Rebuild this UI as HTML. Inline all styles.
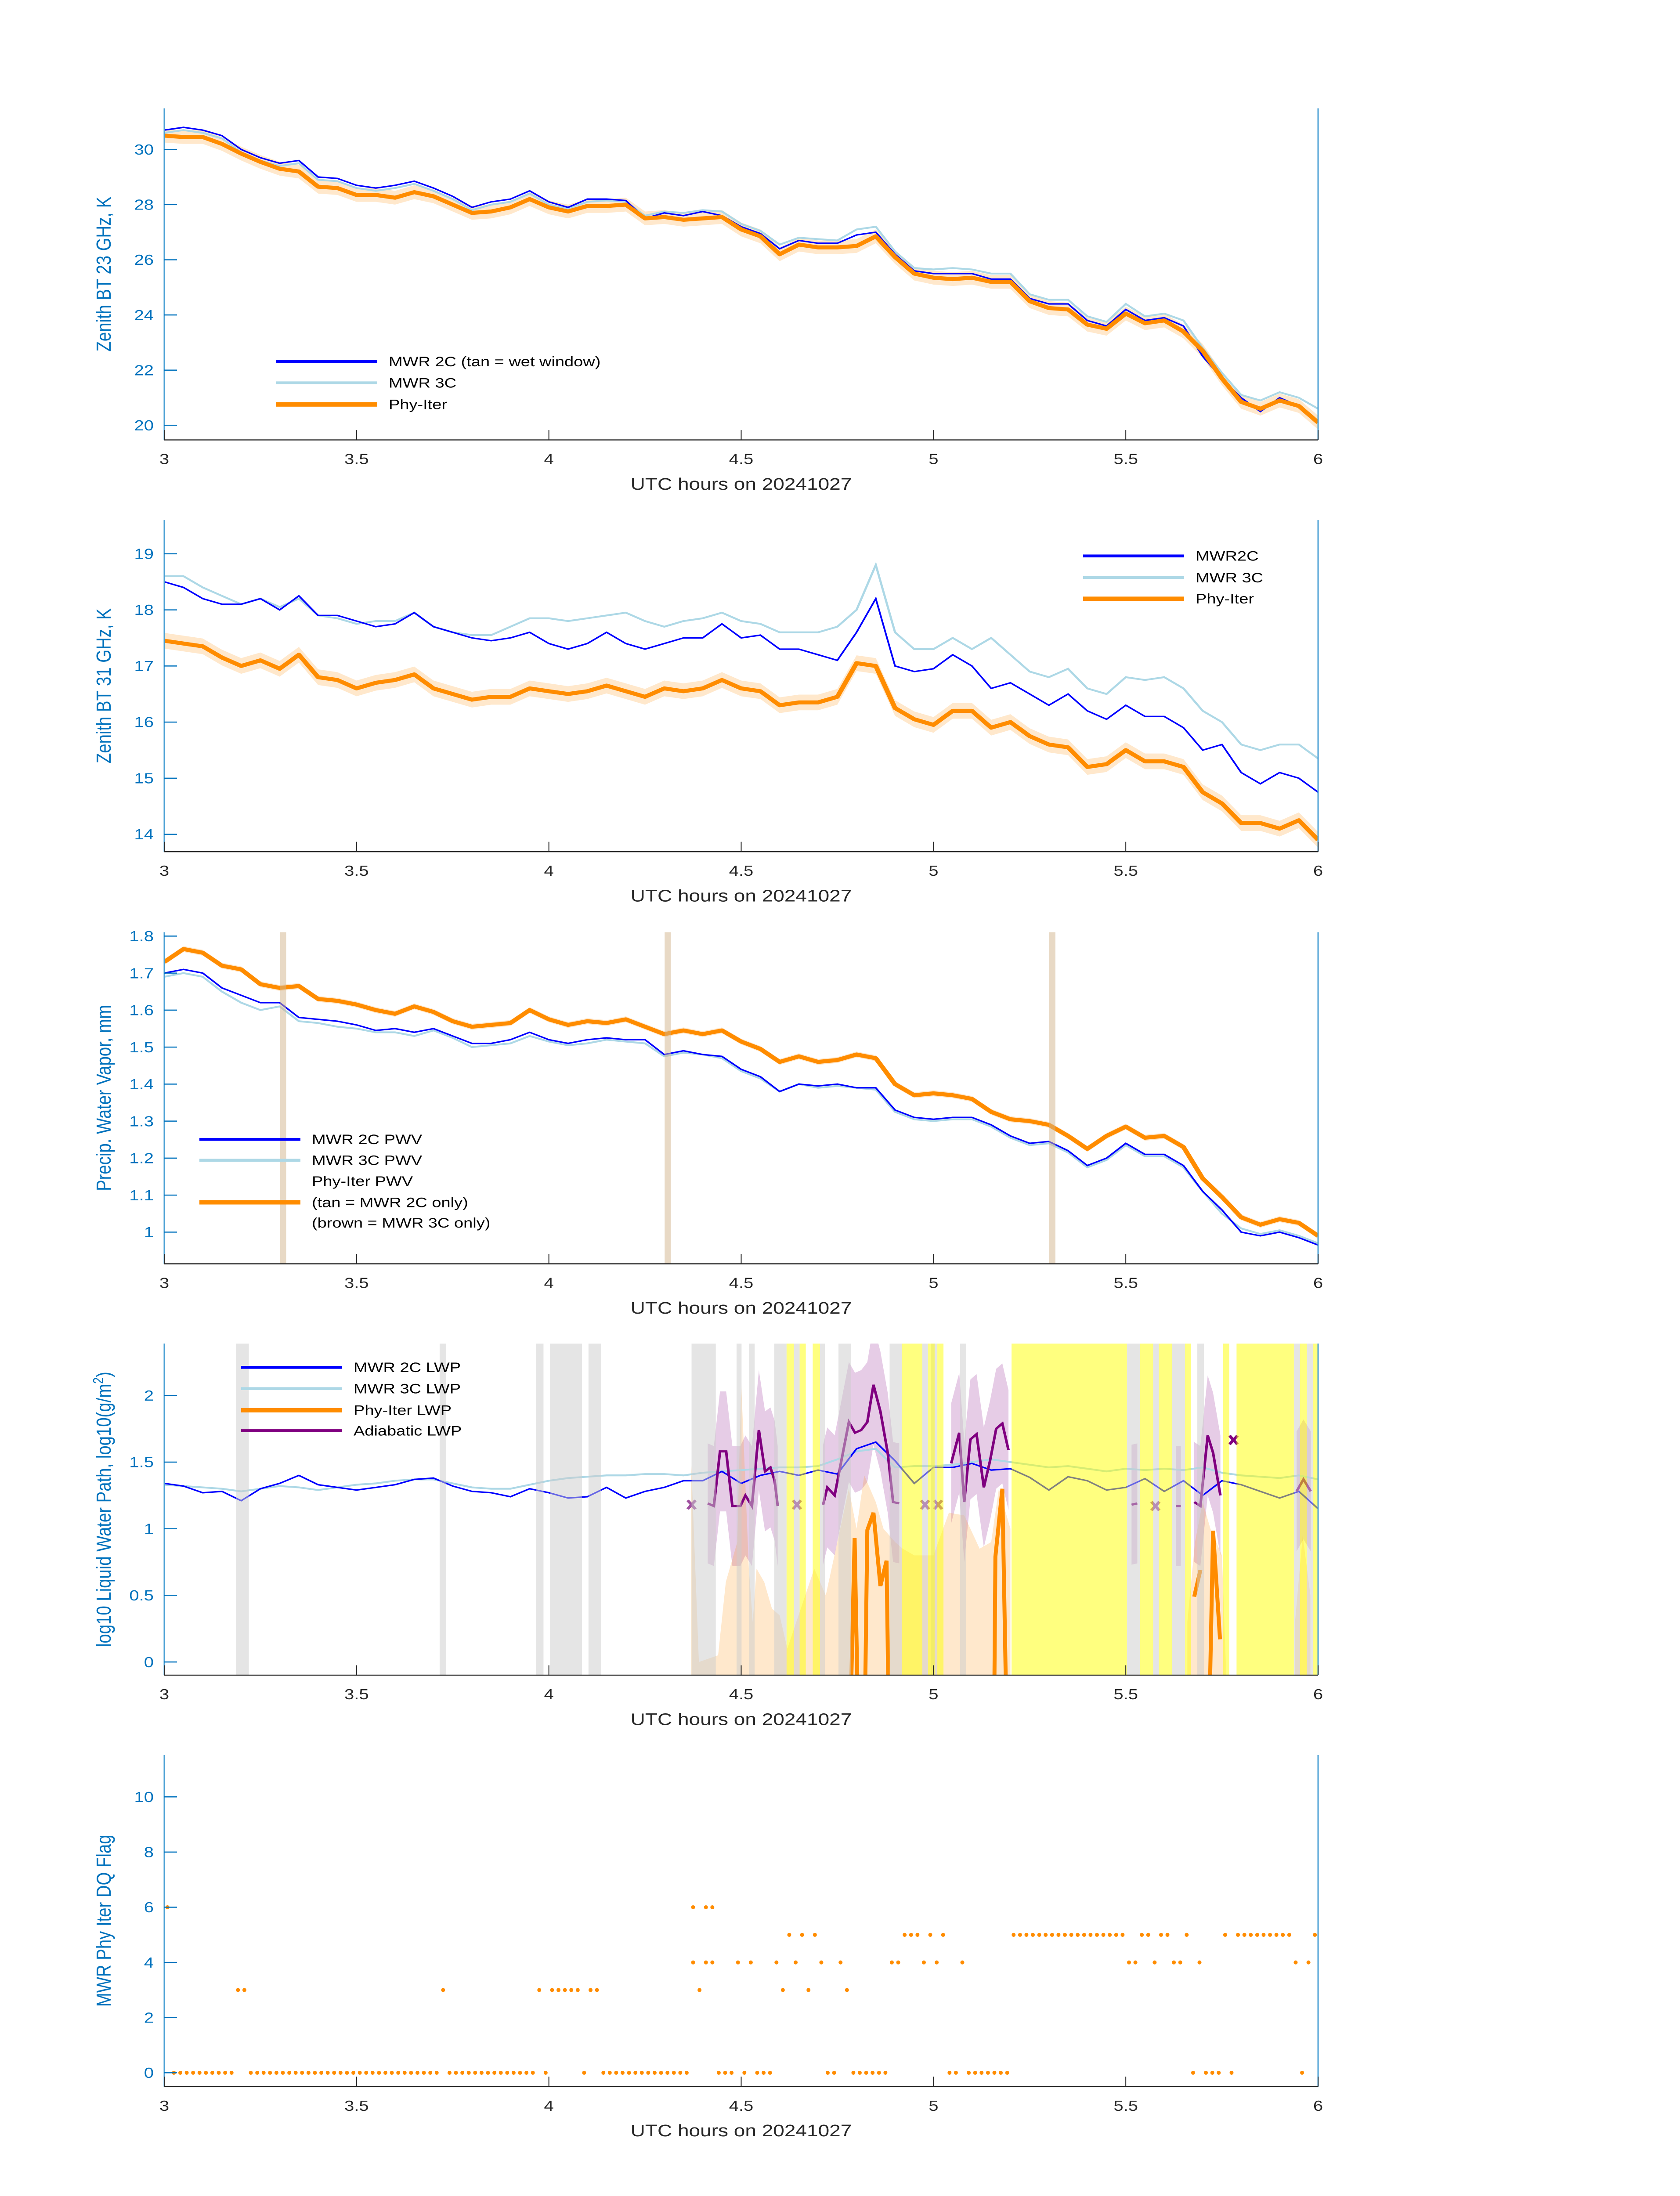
<!DOCTYPE html>
<html><head><meta charset="utf-8"><title>MWR Phy-Iter diagnostics 20241027</title>
<style>
html,body{margin:0;padding:0;background:#fff;width:100vw;height:100vh;overflow:hidden;}
svg{position:absolute;left:0;top:0;width:100vw;height:100vh;font-family:"Liberation Sans",Arial,sans-serif;}
</style></head>
<body>
<svg id="fig" xmlns="http://www.w3.org/2000/svg" viewBox="0 0 3825 6000" preserveAspectRatio="none">
<rect x="0" y="0" width="3825" height="6000" fill="#ffffff"/>
</svg>
<script>
// ---------- shared time grid (UTC hours) ----------
const hours = [3.00,3.05,3.10,3.15,3.20,3.25,3.30,3.35,3.40,3.45,3.50,3.55,3.60,3.65,3.70,3.75,3.80,3.85,3.90,3.95,4.00,4.05,4.10,4.15,4.20,4.25,4.30,4.35,4.40,4.45,4.50,4.55,4.60,4.65,4.70,4.75,4.80,4.85,4.90,4.95,5.00,5.05,5.10,5.15,5.20,5.25,5.30,5.35,5.40,5.45,5.50,5.55,5.60,5.65,5.70,5.75,5.80,5.85,5.90,5.95,6.00];
const xTicks = [3,3.5,4,4.5,5,5.5,6];
const xTickLabels = ["3","3.5","4","4.5","5","5.5","6"];

// ---------- panel 1: BT 23 GHz ----------
const bt23_2C = [30.7,30.8,30.7,30.5,30.0,29.7,29.5,29.6,29.0,28.95,28.7,28.6,28.7,28.85,28.6,28.3,27.9,28.1,28.2,28.5,28.1,27.9,28.2,28.2,28.15,27.5,27.7,27.6,27.75,27.6,27.2,26.95,26.4,26.7,26.6,26.6,26.9,27.0,26.2,25.6,25.5,25.5,25.5,25.3,25.3,24.6,24.4,24.4,23.8,23.6,24.2,23.8,23.9,23.6,22.5,21.7,21.0,20.5,21.0,20.7,20.15];
const bt23_3C = [30.6,30.7,30.6,30.4,29.9,29.6,29.4,29.5,28.9,28.85,28.6,28.5,28.6,28.75,28.5,28.2,27.8,28.0,28.1,28.4,28.0,27.85,28.1,28.15,28.1,27.6,27.75,27.7,27.8,27.75,27.3,27.05,26.55,26.8,26.75,26.7,27.1,27.2,26.3,25.7,25.65,25.7,25.65,25.5,25.5,24.75,24.55,24.55,23.95,23.75,24.4,23.95,24.05,23.8,22.8,21.9,21.1,20.9,21.2,21.0,20.6];
const bt23_phy = [30.5,30.45,30.45,30.2,29.85,29.55,29.3,29.2,28.65,28.6,28.35,28.35,28.25,28.45,28.3,28.0,27.7,27.75,27.9,28.2,27.9,27.75,27.95,27.95,28.0,27.5,27.55,27.45,27.5,27.55,27.1,26.85,26.2,26.55,26.45,26.45,26.5,26.85,26.1,25.5,25.35,25.3,25.35,25.2,25.2,24.5,24.25,24.2,23.65,23.5,24.05,23.7,23.8,23.4,22.7,21.7,20.85,20.6,20.9,20.7,20.1];
const bt23_ci = 0.25;
const bt23_ticks = [20,22,24,26,28,30];

// ---------- panel 2: BT 31 GHz ----------
const bt31_2C = [18.5,18.4,18.2,18.1,18.1,18.2,18.0,18.25,17.9,17.9,17.8,17.7,17.75,17.95,17.7,17.6,17.5,17.45,17.5,17.6,17.4,17.3,17.4,17.6,17.4,17.3,17.4,17.5,17.5,17.75,17.5,17.55,17.3,17.3,17.2,17.1,17.6,18.2,17.0,16.9,16.95,17.2,17.0,16.6,16.7,16.5,16.3,16.5,16.2,16.05,16.3,16.1,16.1,15.9,15.5,15.6,15.1,14.9,15.1,15.0,14.75];
const bt31_3C = [18.6,18.6,18.4,18.25,18.1,18.2,18.05,18.2,17.9,17.85,17.75,17.8,17.8,17.95,17.7,17.6,17.55,17.55,17.7,17.85,17.85,17.8,17.85,17.9,17.95,17.8,17.7,17.8,17.85,17.95,17.8,17.75,17.6,17.6,17.6,17.7,18.0,18.8,17.6,17.3,17.3,17.5,17.3,17.5,17.2,16.9,16.8,16.95,16.6,16.5,16.8,16.75,16.8,16.6,16.2,16.0,15.6,15.5,15.6,15.6,15.35];
const bt31_phy = [17.45,17.4,17.35,17.15,17.0,17.1,16.95,17.2,16.8,16.75,16.6,16.7,16.75,16.85,16.6,16.5,16.4,16.45,16.45,16.6,16.55,16.5,16.55,16.65,16.55,16.45,16.6,16.55,16.6,16.75,16.6,16.55,16.3,16.35,16.35,16.45,17.05,17.0,16.25,16.05,15.95,16.2,16.2,15.9,16.0,15.75,15.6,15.55,15.2,15.25,15.5,15.3,15.3,15.2,14.75,14.55,14.2,14.2,14.1,14.25,13.9];
const bt31_ci = 0.14;
const bt31_ticks = [14,15,16,17,18,19];

// ---------- panel 3: PWV ----------
const pwv_2C = [1.70,1.71,1.70,1.66,1.64,1.62,1.62,1.58,1.575,1.57,1.56,1.545,1.55,1.54,1.55,1.53,1.51,1.51,1.52,1.54,1.52,1.51,1.52,1.525,1.52,1.52,1.48,1.49,1.48,1.475,1.44,1.42,1.38,1.40,1.395,1.40,1.39,1.39,1.33,1.31,1.305,1.31,1.31,1.29,1.26,1.24,1.245,1.22,1.18,1.20,1.24,1.21,1.21,1.18,1.11,1.06,1.00,0.99,1.00,0.985,0.965];
const pwv_3C = [1.69,1.70,1.69,1.65,1.62,1.60,1.61,1.57,1.565,1.555,1.55,1.54,1.54,1.53,1.545,1.525,1.50,1.505,1.51,1.53,1.515,1.505,1.51,1.52,1.515,1.51,1.475,1.485,1.48,1.47,1.435,1.415,1.38,1.40,1.39,1.395,1.39,1.385,1.325,1.305,1.30,1.305,1.305,1.285,1.255,1.235,1.24,1.215,1.175,1.195,1.235,1.205,1.205,1.175,1.11,1.05,1.01,0.995,1.005,0.99,0.97];
const pwv_phy = [1.73,1.765,1.755,1.72,1.71,1.67,1.66,1.665,1.63,1.625,1.615,1.60,1.59,1.61,1.595,1.57,1.555,1.56,1.565,1.60,1.575,1.56,1.57,1.565,1.575,1.555,1.535,1.545,1.535,1.545,1.515,1.495,1.46,1.475,1.46,1.465,1.48,1.47,1.40,1.37,1.375,1.37,1.36,1.325,1.305,1.30,1.29,1.26,1.225,1.26,1.285,1.255,1.26,1.23,1.145,1.095,1.04,1.02,1.035,1.025,0.99];
const pwv_ci = 0.008;
const pwv_tanTimes = [3.309,4.309,5.309];
const pwv_ticks = [1,1.1,1.2,1.3,1.4,1.5,1.6,1.7,1.8];
const pwv_tickLabels = ["1","1.1","1.2","1.3","1.4","1.5","1.6","1.7","1.8"];

// ---------- panel 4: LWP ----------
const lwp_2C = [1.34,1.32,1.27,1.28,1.21,1.30,1.34,1.40,1.33,1.31,1.29,1.31,1.33,1.37,1.38,1.32,1.28,1.27,1.24,1.30,1.27,1.23,1.24,1.31,1.23,1.28,1.31,1.36,1.36,1.43,1.34,1.40,1.43,1.40,1.44,1.41,1.60,1.65,1.51,1.34,1.46,1.46,1.49,1.44,1.45,1.385,1.29,1.39,1.36,1.29,1.31,1.376,1.28,1.36,1.25,1.36,1.33,1.28,1.23,1.28,1.15];
const lwp_3C = [1.33,1.32,1.31,1.30,1.28,1.30,1.32,1.31,1.29,1.31,1.33,1.34,1.36,1.37,1.37,1.34,1.31,1.30,1.30,1.33,1.36,1.38,1.39,1.40,1.40,1.41,1.41,1.40,1.42,1.43,1.44,1.45,1.46,1.46,1.47,1.52,1.58,1.60,1.46,1.47,1.47,1.48,1.50,1.52,1.50,1.48,1.46,1.47,1.45,1.43,1.45,1.44,1.45,1.44,1.46,1.42,1.40,1.39,1.38,1.40,1.37];
const adiTimes = [4.413,4.429,4.445,4.461,4.477,4.498,4.511,4.528,4.546,4.562,4.576,4.587,4.595,null,4.713,4.724,4.743,4.78,4.796,4.812,4.828,4.844,4.862,4.881,4.895,4.911,null,5.046,5.067,5.08,5.096,5.112,5.131,5.147,5.163,5.179,5.195,null,5.515,5.53,null,5.63,5.643,null,5.678,5.694,5.713,5.727,5.746,null,5.944,5.962,5.981];
const adiValues = [1.19,1.17,1.58,1.58,1.17,1.17,1.25,1.17,1.74,1.43,1.46,1.36,1.17,null,1.18,1.31,1.25,1.80,1.72,1.74,1.80,2.08,1.88,1.57,1.20,1.19,null,1.49,1.72,1.20,1.67,1.71,1.31,1.51,1.75,1.79,1.59,null,1.18,1.19,null,1.17,1.17,null,1.20,1.17,1.70,1.57,1.25,null,1.28,1.37,1.28];
const adiCI = 0.45;
const phyLwpTimes = [4.785,4.795,4.803,null,4.822,4.828,4.844,4.862,4.878,4.883,null,5.158,5.161,5.179,5.189,null,5.678,5.694,null,5.718,5.727,5.745];
const phyLwpValues = [-0.3,0.93,-0.3,null,-0.3,0.99,1.12,0.57,0.76,-0.3,null,-0.3,0.79,1.30,-0.3,null,0.49,0.69,null,-0.3,0.985,0.17];
const phyCiTimes = [4.37,4.39,4.44,4.46,4.49,4.50,4.52,4.53,4.54,4.56,4.58,4.60,4.62,4.69,4.72,4.75,4.78,4.80,4.82,4.85,4.87,4.90,4.92,4.95,5.00,5.04,5.08,5.12,5.15,5.17,5.20,null,5.66,5.68,5.70,5.72,5.75,5.76,null,5.94,5.96,5.98];
const phyCiUpper = [1.5,0.0,0.05,0.6,0.9,2.1,0.7,0.3,0.7,0.6,0.4,0.35,0.1,0.7,0.5,0.9,1.3,1.0,1.4,1.2,1.0,0.9,0.85,0.8,0.8,1.12,1.1,0.85,0.9,1.3,1.0,null,0.3,0.9,1.2,1.0,0.8,0.0,null,0.3,0.95,0.5];
const xMarkTimes = [4.371,4.645,4.978,5.012,5.577];
const xMarkValues = [1.18,1.18,1.18,1.18,1.17];
const xMarkDarkTimes = [5.78];
const xMarkDarkValues = [1.666];
const grayBandStart = [3.187,3.716,3.967,4.003,4.103,4.371,4.488,4.52,4.586,4.637,4.705,4.753,4.886,4.971,4.993,5.069,5.503,5.571,5.62,5.686,5.937,5.971];
const grayBandEnd   = [3.220,3.733,3.986,4.086,4.136,4.434,4.501,4.535,4.618,4.652,4.718,4.786,4.918,4.986,5.01,5.085,5.537,5.586,5.654,5.703,5.953,5.987];
const yellowBandStart = [4.618,4.652,4.686,4.918,4.986,5.01,5.203,5.537,5.586,5.654,5.753,5.788,5.953,5.987];
const yellowBandEnd   = [4.637,4.668,4.705,4.971,5.003,5.026,5.503,5.571,5.62,5.67,5.769,5.937,5.971,6.0];
const lwp_ticks = [0,0.5,1,1.5,2];
const lwp_tickLabels = ["0","0.5","1","1.5","2"];

// ---------- panel 5: DQ flag (minute index after 03 UTC) ----------
const flag0Minutes = [1,2,3,4,5,6,7,8,9,10,13,14,15,16,17,18,19,20,21,22,23,24,25,26,27,28,29,30,31,32,33,34,35,36,37,38,39,40,41,42,44,45,46,47,48,49,50,51,52,53,54,55,56,57,59,65,68,69,70,71,72,73,74,75,76,77,78,79,80,81,86,87,88,90,92,93,94,103,104,107,108,109,110,111,112,122,123,125,126,127,128,129,130,131,160,162,163,164,166,177];
const flag3Minutes = [11,12,43,58,60,61,62,63,64,66,67,83,96,100,106];
const flag4Minutes = [82,84,85,89,91,95,98,102,105,113,114,118,120,124,150,151,154,157,158,161,176,178];
const flag5Minutes = [97,99,101,115,116,117,119,121,132,133,134,135,136,137,138,139,140,141,142,143,144,145,146,147,148,149,152,153,155,156,159,165,167,168,169,170,171,172,173,174,175,179,180];
const flag6Minutes = [0,82,84,85];
const flag_ticks = [0,2,4,6,8,10];

// ---------- layout ----------
const SVGNS = "http://www.w3.org/2000/svg";
const fig = document.getElementById("fig");
const X0 = 374, X1 = 3001, PH = 906;
function sx(t){ return X0 + (t-3)/3*(X1-X0); }

function mk(parent, tag, attrs, name, inter){
  const e = document.createElementNS(SVGNS, tag);
  for (const k in attrs) e.setAttribute(k, attrs[k]);
  
  
  parent.appendChild(e);
  return e;
}
function pathFrom(ts, vs, sy){
  let d = "", pen = false;
  for (let i=0;i<ts.length;i++){
    if (ts[i]===null || vs[i]===null){ pen=false; continue; }
    d += (pen ? "L" : "M") + sx(ts[i]).toFixed(1) + "," + sy(vs[i]).toFixed(1);
    pen = true;
  }
  return d;
}
function bandFrom(ts, lo, hi, sy){
  const segs = []; let cur = [];
  for (let i=0;i<=ts.length;i++){
    if (i===ts.length || ts[i]===null){ if (cur.length) segs.push(cur); cur=[]; continue; }
    cur.push(i);
  }
  return segs.map(seg=>{
    let d = "";
    seg.forEach((i,k)=>{ d += (k?"L":"M") + sx(ts[i]).toFixed(1)+","+sy(hi(i)).toFixed(1); });
    for (let k=seg.length-1;k>=0;k--){ const i=seg[k]; d += "L"+sx(ts[i]).toFixed(1)+","+sy(lo(i)).toFixed(1); }
    return d+"Z";
  });
}

function makePanel(id, top, ymin, ymax, yTicks, yTickLabels, ylabel){
  const g = mk(fig, "g", {id:id}, id, false);
  const sy = v => top + (ymax - v)/(ymax - ymin)*PH;
  const clip = mk(g, "clipPath", {id:id+"-clip"}, id+"-clip-region", false);
  mk(clip, "rect", {x:X0, y:top, width:X1-X0, height:PH}, id+"-clip-rect", false);
  const plot = mk(g, "g", {"clip-path":"url(#"+id+"-clip)"}, id+"-plot-area", false);
  return {g, plot, sy, top, yTicks, yTickLabels, ylabel};
}
function finishAxes(p, hasYLabelTspan){
  const {g, sy, top} = p;
  const bottom = top + PH;
  mk(g, "line", {x1:X0, y1:top, x2:X0, y2:bottom, stroke:"#4a9fd4", "stroke-width":3}, "y-axis-line", false);
  mk(g, "line", {x1:X1, y1:top, x2:X1, y2:bottom, stroke:"#4a9fd4", "stroke-width":3}, "right-axis-line", false);
  mk(g, "line", {x1:X0, y1:bottom, x2:X1, y2:bottom, stroke:"#262626", "stroke-width":3}, "x-axis-line", false);
  xTicks.forEach((t,i)=>{
    mk(g, "line", {x1:sx(t), y1:bottom, x2:sx(t), y2:bottom-27, stroke:"#262626", "stroke-width":2}, "x-tick", false);
    const tx = mk(g, "text", {x:sx(t), y:bottom+66, "font-size":40, fill:"#262626", "text-anchor":"middle"}, "x-tick-label", false);
    tx.textContent = xTickLabels[i];
  });
  p.yTicks.forEach((v,i)=>{
    mk(g, "line", {x1:X0, y1:sy(v), x2:X0+29, y2:sy(v), stroke:"#0072bd", "stroke-width":3}, "y-tick", false);
    const ty = mk(g, "text", {x:350, y:sy(v)+14, "font-size":40, fill:"#0072bd", "text-anchor":"end"}, "y-tick-label", false);
    ty.textContent = p.yTickLabels[i];
  });
  const xl = mk(g, "text", {x:(X0+X1)/2, y:bottom+136, "font-size":46, fill:"#262626", "text-anchor":"middle"}, "x-axis-title", false);
  xl.textContent = "UTC hours on 20241027";
  const cy = top + PH/2;
  const yl = mk(g, "text", {x:0, y:0, "font-size":46, fill:"#0072bd", "text-anchor":"middle", transform:"translate(252,"+cy+") rotate(-90)"}, "y-axis-title", false);
  if (hasYLabelTspan){
    yl.appendChild(document.createTextNode("log10 Liquid Water Path, log10(g/m"));
    const sup = mk(yl, "tspan", {"baseline-shift":"super", "font-size":32}, "superscript-two", false);
    sup.textContent = "2";
    yl.appendChild(document.createTextNode(")"));
  } else {
    yl.textContent = p.ylabel;
  }
}
function legend(g, x0, rows){
  const lg = mk(g, "g", {}, "legend", false);
  rows.forEach(r=>{
    if (r.color){
      mk(lg, "line", {x1:x0, y1:r.y, x2:x0+230, y2:r.y, stroke:r.color, "stroke-width":r.w}, "legend-swatch", false);
    }
    const t = mk(lg, "text", {x:x0+256, y:r.y+13, "font-size":38, fill:"#000"}, "legend-entry", false);
    t.textContent = r.label;
  });
}

const BLUE="#0000ff", LBLUE="#add8e6", ORANGE="#ff8c00", PURPLE="#800080";

// ===== Panel 1 =====
{
  const p = makePanel("panel-bt23", 296, 19.47, 31.49, bt23_ticks, bt23_ticks.map(String), "Zenith BT 23 GHz, K");
  bandFrom(hours, i=>bt23_phy[i]-bt23_ci, i=>bt23_phy[i]+bt23_ci, p.sy).forEach(d=>{
    mk(p.plot, "path", {d:d, fill:"rgba(255,140,0,0.2)", stroke:"none"}, "phy-iter-uncertainty", false);
  });
  mk(p.plot, "path", {d:pathFrom(hours, bt23_3C, p.sy), fill:"none", stroke:LBLUE, "stroke-width":5}, "mwr-3c-line", false);
  mk(p.plot, "path", {d:pathFrom(hours, bt23_2C, p.sy), fill:"none", stroke:BLUE, "stroke-width":4}, "mwr-2c-line", false);
  mk(p.plot, "path", {d:pathFrom(hours, bt23_phy, p.sy), fill:"none", stroke:ORANGE, "stroke-width":11, "stroke-linejoin":"round"}, "phy-iter-line", false);
  finishAxes(p, false);
  legend(p.g, 629, [{y:988,color:BLUE,w:8,label:"MWR 2C (tan = wet window)"},{y:1046,color:LBLUE,w:8,label:"MWR 3C"},{y:1105,color:ORANGE,w:12,label:"Phy-Iter"}]);
}
// ===== Panel 2 =====
{
  const p = makePanel("panel-bt31", 1421, 13.69, 19.6, bt31_ticks, bt31_ticks.map(String), "Zenith BT 31 GHz, K");
  bandFrom(hours, i=>bt31_phy[i]-bt31_ci, i=>bt31_phy[i]+bt31_ci, p.sy).forEach(d=>{
    mk(p.plot, "path", {d:d, fill:"rgba(255,140,0,0.2)", stroke:"none"}, "phy-iter-uncertainty", false);
  });
  mk(p.plot, "path", {d:pathFrom(hours, bt31_3C, p.sy), fill:"none", stroke:LBLUE, "stroke-width":5}, "mwr-3c-line", false);
  mk(p.plot, "path", {d:pathFrom(hours, bt31_2C, p.sy), fill:"none", stroke:BLUE, "stroke-width":4}, "mwr-2c-line", false);
  mk(p.plot, "path", {d:pathFrom(hours, bt31_phy, p.sy), fill:"none", stroke:ORANGE, "stroke-width":11, "stroke-linejoin":"round"}, "phy-iter-line", false);
  finishAxes(p, false);
  legend(p.g, 2466, [{y:1519,color:BLUE,w:8,label:"MWR2C"},{y:1578,color:LBLUE,w:8,label:"MWR 3C"},{y:1636,color:ORANGE,w:12,label:"Phy-Iter"}]);
}
// ===== Panel 3 =====
{
  const p = makePanel("panel-pwv", 2547, 0.9144, 1.8105, pwv_ticks, pwv_tickLabels, "Precip. Water Vapor, mm");
  bandFrom(hours, i=>pwv_phy[i]-pwv_ci, i=>pwv_phy[i]+pwv_ci, p.sy).forEach(d=>{
    mk(p.plot, "path", {d:d, fill:"rgba(255,140,0,0.2)", stroke:"none"}, "phy-iter-uncertainty", false);
  });
  mk(p.plot, "path", {d:pathFrom(hours, pwv_3C, p.sy), fill:"none", stroke:LBLUE, "stroke-width":5}, "mwr-3c-pwv-line", false);
  mk(p.plot, "path", {d:pathFrom(hours, pwv_2C, p.sy), fill:"none", stroke:BLUE, "stroke-width":4}, "mwr-2c-pwv-line", false);
  mk(p.plot, "path", {d:pathFrom(hours, pwv_phy, p.sy), fill:"none", stroke:ORANGE, "stroke-width":11, "stroke-linejoin":"round"}, "phy-iter-pwv-line", false);
  pwv_tanTimes.forEach(t=>{
    mk(p.plot, "rect", {x:sx(t)-7, y:p.top, width:14, height:PH, fill:"rgba(210,180,140,0.5)"}, "tan-mwr-2c-only-marker", false);
  });
  finishAxes(p, false);
  legend(p.g, 454, [{y:3113,color:BLUE,w:8,label:"MWR 2C PWV"},{y:3170,color:LBLUE,w:8,label:"MWR 3C PWV"},{y:3227,label:"Phy-Iter PWV"},{y:3285,color:ORANGE,w:12,label:"(tan = MWR 2C only)"},{y:3341,label:"(brown = MWR 3C only)"}]);
}
// ===== Panel 4 =====
{
  const p = makePanel("panel-lwp", 3671, -0.099, 2.389, lwp_ticks, lwp_tickLabels, "");
  bandFrom(adiTimes, i=>adiValues[i]-adiCI, i=>adiValues[i]+adiCI, p.sy).forEach(d=>{
    mk(p.plot, "path", {d:d, fill:"rgba(128,0,128,0.2)", stroke:"none"}, "adiabatic-uncertainty", false);
  });
  bandFrom(phyCiTimes, i=>-0.2, i=>phyCiUpper[i], p.sy).forEach(d=>{
    mk(p.plot, "path", {d:d, fill:"rgba(255,140,0,0.2)", stroke:"none"}, "phy-iter-lwp-uncertainty", false);
  });
  mk(p.plot, "path", {d:pathFrom(hours, lwp_3C, p.sy), fill:"none", stroke:LBLUE, "stroke-width":5}, "mwr-3c-lwp-line", false);
  mk(p.plot, "path", {d:pathFrom(hours, lwp_2C, p.sy), fill:"none", stroke:BLUE, "stroke-width":4}, "mwr-2c-lwp-line", false);
  mk(p.plot, "path", {d:pathFrom(adiTimes, adiValues, p.sy), fill:"none", stroke:PURPLE, "stroke-width":6}, "adiabatic-lwp-line", false);
  mk(p.plot, "path", {d:pathFrom(phyLwpTimes, phyLwpValues, p.sy), fill:"none", stroke:ORANGE, "stroke-width":9}, "phy-iter-lwp-line", false);
  xMarkTimes.forEach((t,i)=>{
    const cx=sx(t), cy=p.sy(xMarkValues[i]);
    mk(p.plot, "path", {d:`M${cx-9},${cy-12}L${cx+9},${cy+12}M${cx+9},${cy-12}L${cx-9},${cy+12}`, stroke:"#a050a0", "stroke-width":7}, "adiabatic-x-marker", false);
  });
  xMarkDarkTimes.forEach((t,i)=>{
    const cx=sx(t), cy=p.sy(xMarkDarkValues[i]);
    mk(p.plot, "path", {d:`M${cx-9},${cy-12}L${cx+9},${cy+12}M${cx+9},${cy-12}L${cx-9},${cy+12}`, stroke:PURPLE, "stroke-width":7}, "adiabatic-x-marker-dark", false);
  });
  grayBandStart.forEach((t,i)=>{
    mk(p.plot, "rect", {x:sx(t), y:p.top, width:sx(grayBandEnd[i])-sx(t), height:PH, fill:"rgba(204,204,204,0.5)"}, "gray-flag-band", false);
  });
  yellowBandStart.forEach((t,i)=>{
    mk(p.plot, "rect", {x:sx(t), y:p.top, width:sx(yellowBandEnd[i])-sx(t), height:PH, fill:"rgba(255,255,0,0.5)"}, "yellow-flag-band", false);
  });
  finishAxes(p, true);
  legend(p.g, 549, [{y:3736,color:BLUE,w:8,label:"MWR 2C LWP"},{y:3794,color:LBLUE,w:8,label:"MWR 3C LWP"},{y:3853,color:ORANGE,w:12,label:"Phy-Iter LWP"},{y:3909,color:PURPLE,w:8,label:"Adiabatic LWP"}]);
}
// ===== Panel 5 =====
{
  const p = makePanel("panel-dq-flag", 4795, -0.5, 11.52, flag_ticks, flag_ticks.map(String), "MWR Phy Iter DQ Flag");
  const groups = [[flag0Minutes,0],[flag3Minutes,3],[flag4Minutes,4],[flag5Minutes,5],[flag6Minutes,6]];
  groups.forEach(([mins,val])=>{
    mins.forEach(m=>{
      const t = 3 + (m+0.5)/60;
      mk(p.plot, "ellipse", {cx:sx(t), cy:p.sy(val), rx:4.5, ry:5.5, fill:ORANGE}, "dq-flag-point", false);
    });
  });
  finishAxes(p, false);
}
</script>
</body></html>
